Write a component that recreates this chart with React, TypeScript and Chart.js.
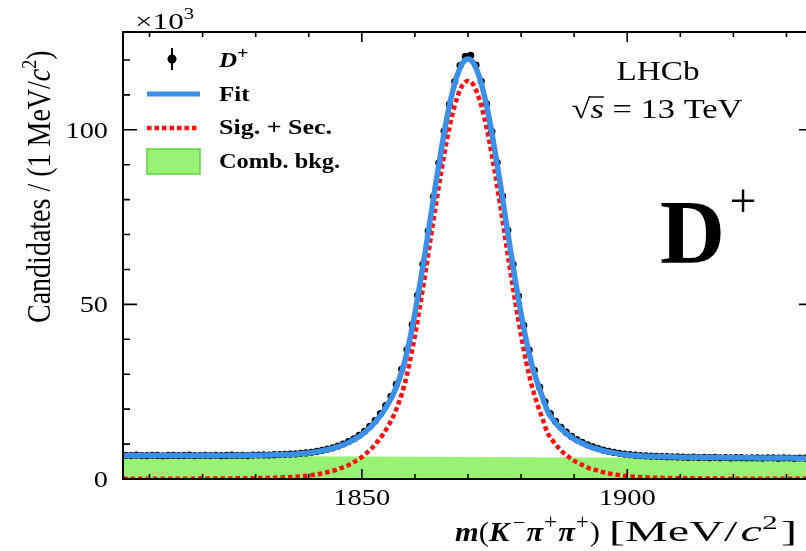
import { useEffect, useRef } from "react";
import { Chart, registerables } from "chart.js";
Chart.register(...registerables);

// ---------------- data (units of 10^3 candidates per 1 MeV/c^2) ----------------
const curveMass = [
  1805, 1806, 1807, 1808, 1809, 1810, 1811, 1812, 1813, 1814,
  1815, 1816, 1817, 1818, 1819, 1820, 1821, 1822, 1823, 1824,
  1825, 1826, 1827, 1828, 1829, 1830, 1831, 1832, 1833, 1834,
  1835, 1836, 1837, 1838, 1839, 1840, 1841, 1842, 1843, 1844,
  1845, 1846, 1847, 1848, 1849, 1850, 1851, 1852, 1853, 1854,
  1855, 1856, 1857, 1858, 1859, 1860, 1861, 1862, 1863, 1864,
  1865, 1866, 1867, 1868, 1869, 1870, 1871, 1872, 1873, 1874,
  1875, 1876, 1877, 1878, 1879, 1880, 1881, 1882, 1883, 1884,
  1885, 1886, 1887, 1888, 1889, 1890, 1891, 1892, 1893, 1894,
  1895, 1896, 1897, 1898, 1899, 1900, 1901, 1902, 1903, 1904,
  1905, 1906, 1907, 1908, 1909, 1910, 1911, 1912, 1913, 1914,
  1915, 1916, 1917, 1918, 1919, 1920, 1921, 1922, 1923, 1924,
  1925, 1926, 1927, 1928, 1929, 1930, 1931, 1932, 1933, 1934, 1935,
];

const sigSecValues = [
  0.05, 0.05, 0.05, 0.06, 0.06, 0.07, 0.07, 0.07, 0.08, 0.08,
  0.09, 0.09, 0.10, 0.10, 0.11, 0.11, 0.12, 0.13, 0.14, 0.15,
  0.16, 0.18, 0.19, 0.21, 0.23, 0.25, 0.28, 0.33, 0.37, 0.41,
  0.46, 0.52, 0.59, 0.70, 0.83, 0.99, 1.20, 1.45, 1.75, 2.12,
  2.53, 3.08, 3.63, 4.40, 5.28, 6.27, 7.59, 9.02, 10.8, 12.8,
  15.3, 18.2, 22.0, 26.8, 33.3, 41.1, 49.9, 59.3, 69.2, 79.0,
  88.3, 96.9, 104.0, 109.4, 112.9, 114.0, 112.9, 109.4, 104.0, 96.9,
  88.3, 79.0, 69.2, 59.3, 49.9, 41.1, 33.3, 26.8, 21.7, 17.4,
  13.2, 10.9, 9.0, 7.5, 6.3, 5.2, 4.4, 3.7, 3.0, 2.6,
  2.1, 1.78, 1.46, 1.21, 1.00, 0.83, 0.69, 0.59, 0.50, 0.43,
  0.39, 0.34, 0.30, 0.27, 0.24, 0.21, 0.19, 0.18, 0.16, 0.15,
  0.14, 0.13, 0.12, 0.11, 0.10, 0.09, 0.09, 0.08, 0.08, 0.08,
  0.07, 0.07, 0.07, 0.06, 0.06, 0.06, 0.05, 0.05, 0.05, 0.05, 0.05,
];

const fitValues = [
  6.75, 6.74, 6.74, 6.74, 6.74, 6.74, 6.73, 6.73, 6.73, 6.72,
  6.73, 6.72, 6.73, 6.72, 6.72, 6.72, 6.72, 6.73, 6.73, 6.73,
  6.74, 6.75, 6.75, 6.77, 6.78, 6.80, 6.82, 6.86, 6.90, 6.93,
  6.98, 7.03, 7.09, 7.20, 7.32, 7.47, 7.68, 7.92, 8.22, 8.58,
  8.98, 9.53, 10.07, 10.84, 11.71, 12.69, 14.01, 15.43, 17.2, 19.2,
  21.7, 24.6, 28.4, 33.2, 39.7, 47.5, 56.3, 65.6, 75.5, 85.3,
  94.6, 103.2, 110.3, 115.7, 119.2, 120.3, 119.2, 115.7, 110.3, 103.2,
  94.6, 85.3, 75.5, 65.6, 56.1, 47.3, 39.5, 33.0, 27.9, 23.6,
  19.4, 17.1, 15.2, 13.7, 12.5, 11.4, 10.6, 9.9, 9.2, 8.75,
  8.25, 7.92, 7.59, 7.34, 7.12, 6.94, 6.80, 6.69, 6.60, 6.52,
  6.47, 6.42, 6.37, 6.34, 6.30, 6.26, 6.24, 6.22, 6.20, 6.18,
  6.16, 6.15, 6.13, 6.11, 6.10, 6.08, 6.08, 6.06, 6.05, 6.05,
  6.03, 6.03, 6.02, 6.00, 6.00, 5.99, 5.98, 5.97, 5.96, 5.96, 5.95,
];

const bkgMass = [1805, 1870, 1935];
const bkgValues = [6.7, 6.3, 5.9];

const dataMass = [
  1805.5, 1806.5, 1807.5, 1808.5, 1809.5, 1810.5, 1811.5, 1812.5, 1813.5, 1814.5,
  1815.5, 1816.5, 1817.5, 1818.5, 1819.5, 1820.5, 1821.5, 1822.5, 1823.5, 1824.5,
  1825.5, 1826.5, 1827.5, 1828.5, 1829.5, 1830.5, 1831.5, 1832.5, 1833.5, 1834.5,
  1835.5, 1836.5, 1837.5, 1838.5, 1839.5, 1840.5, 1841.5, 1842.5, 1843.5, 1844.5,
  1845.5, 1846.5, 1847.5, 1848.5, 1849.5, 1850.5, 1851.5, 1852.5, 1853.5, 1854.5,
  1855.5, 1856.5, 1857.5, 1858.5, 1859.5, 1860.5, 1861.5, 1862.5, 1863.5, 1864.5,
  1865.5, 1866.5, 1867.5, 1868.5, 1869.5, 1870.5, 1871.5, 1872.5, 1873.5, 1874.5,
  1875.5, 1876.5, 1877.5, 1878.5, 1879.5, 1880.5, 1881.5, 1882.5, 1883.5, 1884.5,
  1885.5, 1886.5, 1887.5, 1888.5, 1889.5, 1890.5, 1891.5, 1892.5, 1893.5, 1894.5,
  1895.5, 1896.5, 1897.5, 1898.5, 1899.5, 1900.5, 1901.5, 1902.5, 1903.5, 1904.5,
  1905.5, 1906.5, 1907.5, 1908.5, 1909.5, 1910.5, 1911.5, 1912.5, 1913.5, 1914.5,
  1915.5, 1916.5, 1917.5, 1918.5, 1919.5, 1920.5, 1921.5, 1922.5, 1923.5, 1924.5,
  1925.5, 1926.5, 1927.5, 1928.5, 1929.5, 1930.5, 1931.5, 1932.5, 1933.5, 1934.5,
];

const dataValues = [
  6.78, 6.70, 6.81, 6.72, 6.69, 6.80, 6.76, 6.66, 6.75, 6.79,
  6.70, 6.74, 6.83, 6.68, 6.73, 6.77, 6.71, 6.80, 6.69, 6.76,
  6.82, 6.73, 6.79, 6.72, 6.86, 6.84, 6.90, 6.85, 6.97, 7.02,
  7.06, 7.14, 7.19, 7.35, 7.48, 7.66, 7.91, 8.19, 8.55, 8.92,
  9.45, 10.02, 10.71, 11.52, 12.51, 13.66, 15.05, 16.7, 18.7, 21.0,
  23.7, 27.1, 31.4, 37.0, 44.2, 52.6, 61.5, 71.0, 80.9, 90.5,
  99.6, 107.3, 113.8, 118.4, 121.0, 121.3, 118.5, 113.9, 107.4, 99.5,
  90.6, 81.0, 71.2, 61.5, 52.4, 44.0, 36.9, 31.1, 26.3, 22.1,
  18.7, 16.5, 14.8, 13.4, 12.2, 11.3, 10.5, 9.8, 9.22, 8.72,
  8.28, 7.93, 7.62, 7.36, 7.15, 6.98, 6.83, 6.71, 6.63, 6.55,
  6.50, 6.44, 6.40, 6.35, 6.33, 6.29, 6.19, 6.27, 6.15, 6.22,
  6.12, 6.20, 6.08, 6.16, 6.04, 6.13, 6.10, 6.01, 6.09, 6.07,
  5.98, 6.06, 6.04, 5.95, 6.03, 6.02, 5.93, 6.01, 5.99, 5.92,
];

const xTickLabels = [1850, 1900];
const xMinorTicks = [1810, 1820, 1830, 1840, 1860, 1870, 1880, 1890, 1910, 1920, 1930];
const yTickLabels = [0, 50, 100];
const yMinorTicks = [10, 20, 30, 40, 60, 70, 80, 90, 110, 120];

// ---------------- styles ----------------
const SERIF = '"Liberation Serif", "Times New Roman", serif';
const BLUE = "rgb(58,144,232)";
const RED = "rgb(255,14,14)";
const GREEN = "rgb(152,242,115)";
const GREEN_EDGE = "rgb(90,215,60)";

type Seg = { t: string; f: string; dy?: number; gap?: number };

function segWidth(ctx: CanvasRenderingContext2D, segs: Seg[]) {
  let w = 0;
  for (const s of segs) {
    ctx.font = s.f;
    w += ctx.measureText(s.t).width + (s.gap || 0);
  }
  return w;
}

function drawSegs(
  ctx: CanvasRenderingContext2D,
  segs: Seg[],
  x: number,
  y: number,
  align: "left" | "right" | "center",
  sx = 1,
  rotate = false,
  targetWidth = 0
) {
  ctx.save();
  const w = segWidth(ctx, segs);
  if (targetWidth > 0) sx = targetWidth / w;
  ctx.translate(x, y);
  ctx.scale(sx, 1);
  if (rotate) ctx.rotate(-Math.PI / 2);
  let cx = align === "left" ? 0 : align === "right" ? -w : -w / 2;
  ctx.textAlign = "left";
  ctx.textBaseline = "alphabetic";
  ctx.fillStyle = "#000";
  for (const s of segs) {
    ctx.font = s.f;
    ctx.fillText(s.t, cx, s.dy || 0);
    cx += ctx.measureText(s.t).width + (s.gap || 0);
  }
  ctx.restore();
}

const decorPlugin = {
  id: "lhcbDecor",
  afterDraw(chart: any) {
    const ctx: CanvasRenderingContext2D = chart.ctx;
    const { left, right, top, bottom } = chart.chartArea;
    const xs = chart.scales.x;
    const ys = chart.scales.y;

    ctx.save();
    // frame
    ctx.strokeStyle = "#000";
    ctx.lineWidth = 2;
    ctx.strokeRect(left, top, right - left, bottom - top);

    // ticks
    ctx.lineWidth = 1.6;
    ctx.beginPath();
    const xt = (v: number, len: number) => {
      const px = xs.getPixelForValue(v);
      ctx.moveTo(px, bottom);
      ctx.lineTo(px, bottom - len);
      ctx.moveTo(px, top);
      ctx.lineTo(px, top + len);
    };
    const yt = (v: number, len: number) => {
      const py = ys.getPixelForValue(v);
      ctx.moveTo(left, py);
      ctx.lineTo(left + len, py);
      ctx.moveTo(right, py);
      ctx.lineTo(right - len, py);
    };
    xTickLabels.forEach((v) => xt(v, 10));
    xMinorTicks.forEach((v) => xt(v, 5));
    yTickLabels.forEach((v) => yt(v, 14));
    yMinorTicks.forEach((v) => yt(v, 7));
    ctx.stroke();

    const f = (size: number, style = "") => `${style} ${size}px ${SERIF}`.trim();

    // tick labels
    yTickLabels.forEach((v) => {
      const py = ys.getPixelForValue(v);
      drawSegs(ctx, [{ t: String(v), f: f(24) }], left - 15, py + 8, "right", 1.18);
    });
    xTickLabels.forEach((v) => {
      const px = xs.getPixelForValue(v);
      drawSegs(ctx, [{ t: String(v), f: f(23) }], px, bottom + 26, "center", 1.24);
    });

    // x10^3
    drawSegs(
      ctx,
      [
        { t: "×10", f: f(24) },
        { t: "3", f: f(16), dy: -10 },
      ],
      135,
      29,
      "left",
      1.3
    );

    // x axis title: two groups
    drawSegs(
      ctx,
      [
        { t: "m", f: f(27, "italic bold") },
        { t: "(", f: f(27) },
        { t: "K", f: f(27, "italic bold"), gap: 3 },
        { t: "−", f: f(20), dy: -12, gap: 1 },
        { t: "π", f: f(27, "italic bold"), gap: 1 },
        { t: "+", f: f(20), dy: -12, gap: 1 },
        { t: "π", f: f(27, "italic bold"), gap: 1 },
        { t: "+", f: f(20), dy: -12, gap: 1 },
        { t: ")", f: f(27) },
      ],
      455,
      541,
      "left",
      1,
      false,
      145
    );
    drawSegs(
      ctx,
      [
        { t: "[MeV", f: f(29) },
        { t: "/", f: f(29), gap: 2 },
        { t: "c", f: f(29, "italic") },
        { t: "2", f: f(19), dy: -12, gap: 2 },
        { t: "]", f: f(29) },
      ],
      797,
      541,
      "right",
      1,
      false,
      188
    );
    // y axis title
    drawSegs(
      ctx,
      [
        { t: "Candidates / (1 MeV/", f: f(28) },
        { t: "c", f: f(28, "italic") },
        { t: "2", f: f(18), dy: -12 },
        { t: ")", f: f(28) },
      ],
      50,
      323,
      "left",
      1.17,
      true
    );

    // legend
    ctx.fillStyle = "#000";
    ctx.strokeStyle = "#000";
    ctx.lineWidth = 2;
    ctx.beginPath();
    ctx.moveTo(172, 48);
    ctx.lineTo(172, 70);
    ctx.stroke();
    ctx.beginPath();
    ctx.arc(172, 59, 4.5, 0, Math.PI * 2);
    ctx.fill();
    drawSegs(
      ctx,
      [
        { t: "D", f: f(20, "italic bold") },
        { t: "+", f: f(16, "bold"), dy: -8 },
      ],
      219,
      67,
      "left",
      1.25
    );

    ctx.strokeStyle = BLUE;
    ctx.lineWidth = 5;
    ctx.beginPath();
    ctx.moveTo(147, 94);
    ctx.lineTo(200, 94);
    ctx.stroke();
    drawSegs(ctx, [{ t: "Fit", f: f(20, "bold") }], 219, 100.5, "left", 1.25);

    ctx.strokeStyle = RED;
    ctx.lineWidth = 4.5;
    ctx.setLineDash([4.5, 3]);
    ctx.beginPath();
    ctx.moveTo(147, 128);
    ctx.lineTo(198, 128);
    ctx.stroke();
    ctx.setLineDash([]);
    drawSegs(ctx, [{ t: "Sig. + Sec.", f: f(20, "bold") }], 219, 134, "left", 1, false, 113);

    ctx.fillStyle = GREEN;
    ctx.fillRect(147, 149, 53, 25);
    ctx.strokeStyle = GREEN_EDGE;
    ctx.lineWidth = 1.5;
    ctx.strokeRect(147, 149, 53, 25);
    drawSegs(ctx, [{ t: "Comb. bkg.", f: f(20, "bold") }], 219, 168, "left", 1, false, 121);

    // LHCb label
    drawSegs(ctx, [{ t: "LHCb", f: f(27) }], 658, 80, "center", 1, false, 83);
    const sqrtSegs: Seg[] = [
      { t: "√", f: f(28) },
      { t: "s", f: f(28, "italic") },
      { t: " = 13 TeV", f: f(28) },
    ];
    const sqW = segWidth(ctx, sqrtSegs);
    const sqSx = 171 / sqW;
    drawSegs(ctx, sqrtSegs, 657, 118, "center", sqSx);
    {
      ctx.font = f(28);
      const wR = ctx.measureText("√").width * sqSx;
      ctx.font = f(28, "italic");
      const wS = ctx.measureText("s").width * sqSx;
      const x0 = 657 - (sqW * sqSx) / 2 + wR - 1;
      ctx.strokeStyle = "#000";
      ctx.lineWidth = 1.4;
      ctx.beginPath();
      ctx.moveTo(x0, 97);
      ctx.lineTo(x0 + wS + 1, 97);
      ctx.stroke();
    }

    // big D+
    drawSegs(ctx, [{ t: "D", f: f(90, "bold") }], 660, 263, "left", 1);
    drawSegs(ctx, [{ t: "+", f: f(48) }], 743, 217, "center", 1);

    ctx.restore();
  },
};

export default function App() {
  const ref = useRef<HTMLCanvasElement | null>(null);

  useEffect(() => {
    document.body.style.margin = "0";
    const canvas = ref.current;
    if (!canvas) return;
    const chart = new Chart(canvas, {
      type: "line",
      data: {
        datasets: [
          {
            label: "Fit",
            data: curveMass.map((m, i) => ({ x: m, y: fitValues[i] })),
            borderColor: BLUE,
            borderWidth: 5.5,
            pointRadius: 0,
            fill: false,
            cubicInterpolationMode: "monotone",
            order: 0,
          },
          {
            label: "Sig. + Sec.",
            data: curveMass.map((m, i) => ({ x: m, y: sigSecValues[i] })),
            borderColor: RED,
            borderWidth: 4.5,
            borderDash: [4.5, 3],
            pointRadius: 0,
            fill: false,
            cubicInterpolationMode: "monotone",
            order: 1,
          },
          {
            label: "D+",
            data: dataMass.map((m, i) => ({ x: m, y: dataValues[i] })),
            showLine: false,
            pointRadius: 3.6,
            pointBackgroundColor: "#000",
            pointBorderWidth: 0,
            order: 2,
          },
          {
            label: "Comb. bkg.",
            data: bkgMass.map((m, i) => ({ x: m, y: bkgValues[i] })),
            borderWidth: 0,
            borderColor: GREEN,
            backgroundColor: GREEN,
            pointRadius: 0,
            fill: "origin",
            order: 3,
          },
        ],
      } as any,
      options: {
        responsive: false,
        animation: false,
        devicePixelRatio: 1,
        events: [],
        layout: { padding: { left: 0, top: 32, right: 7, bottom: 0 } },
        plugins: { legend: { display: false }, tooltip: { enabled: false } },
        scales: {
          x: {
            type: "linear",
            min: 1805,
            max: 1935,
            grid: { display: false, drawTicks: false },
            border: { display: false },
            ticks: { display: false },
            afterFit: (s: any) => {
              s.height = 72;
            },
          },
          y: {
            type: "linear",
            min: 0,
            max: 128,
            grid: { display: false, drawTicks: false },
            border: { display: false },
            ticks: { display: false },
            afterFit: (s: any) => {
              s.width = 123;
            },
          },
        },
      } as any,
      plugins: [decorPlugin],
    });
    return () => chart.destroy();
  }, []);

  return (
    <div style={{ width: 806, height: 551, overflow: "hidden", position: "relative", background: "#fff" }}>
      <canvas ref={ref} width={820} height={551} style={{ display: "block" }} />
    </div>
  );
}
